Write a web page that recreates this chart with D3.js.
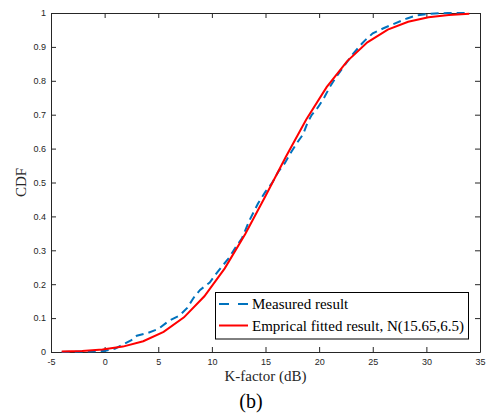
<!DOCTYPE html>
<html>
<head>
<meta charset="utf-8">
<script src="https://cdn.jsdelivr.net/npm/d3@7"></script>
<style>
  html, body { margin: 0; padding: 0; background: #ffffff; }
  svg { display: block; }
</style>
</head>
<body>
<svg id="chart" width="491" height="416"></svg>
<script>
// Empirical CDF of the measured K-factor (dB)
const measuredK = [-4, 0, 1, 1.7, 2.5, 3, 4, 5, 6, 7, 7.7, 8.3, 8.9, 9.8, 10.5, 11.6, 12.3, 12.8,
  13.5, 14.3, 15, 15.6, 16.2, 16.8, 17.4, 17.9, 18.5, 18.9, 19.3, 19.9, 20.5, 21, 21.6, 22.4,
  23.2, 24, 24.3, 25, 26, 26.9, 28.2, 29.1, 30.3, 32, 34];
const measuredCdf = [0, 0.003, 0.01, 0.022, 0.035, 0.048, 0.056, 0.068, 0.092, 0.108, 0.13, 0.16,
  0.183, 0.205, 0.235, 0.278, 0.313, 0.335, 0.388, 0.438, 0.473, 0.498, 0.532, 0.557, 0.59, 0.615,
  0.642, 0.675, 0.699, 0.722, 0.752, 0.782, 0.812, 0.847, 0.881, 0.91, 0.92, 0.94, 0.955, 0.967,
  0.984, 0.993, 0.998, 1.0, 1.0];

// Fitted normal CDF, N(15.65, 6.5)
const fittedK = [-4, -2.1, -0.2, 1.7, 3.6, 5.5, 7.4, 9.3, 11.2, 13.1, 15.0, 16.9, 18.8, 20.7,
  22.6, 24.5, 26.4, 28.3, 30.2, 32.1, 34.0];
const fittedCdf = [0.0013, 0.0032, 0.0074, 0.0159, 0.0319, 0.0592, 0.1022, 0.1643, 0.2468, 0.3474,
  0.4602, 0.5762, 0.6860, 0.7814, 0.8575, 0.9133, 0.9509, 0.9742, 0.9874, 0.9943, 0.9976];

const xTicks = [-5, 0, 5, 10, 15, 20, 25, 30, 35];
const xTickLabels = ["-5", "0", "5", "10", "15", "20", "25", "30", "35"];
const yTicks = [0, 0.1, 0.2, 0.3, 0.4, 0.5, 0.6, 0.7, 0.8, 0.9, 1];
const yTickLabels = ["0", "0.1", "0.2", "0.3", "0.4", "0.5", "0.6", "0.7", "0.8", "0.9", "1"];

const seriesNames = ["Measured result", "Emprical fitted result, N(15.65,6.5)"];

const axisColor = "#262626";
const blue = "#0072BD";
const red = "#FF0000";
const serif = "'Liberation Serif', 'Times New Roman', serif";
const sans = "'Liberation Sans', Arial, Helvetica, sans-serif";

const plotLeft = 51, plotRight = 480, plotTop = 13, plotBottom = 352;

const svg = d3.select("#chart");

const x = d3.scaleLinear().domain([-5, 35]).range([plotLeft, plotRight]);
const y = d3.scaleLinear().domain([0, 1]).range([plotBottom, plotTop]);

const tickLen = 5;

function styleAxis(g) {
  g.selectAll(".domain").attr("stroke", axisColor).attr("stroke-width", 1);
  g.selectAll(".tick line").attr("stroke", axisColor).attr("stroke-width", 1);
  g.selectAll(".tick text").attr("fill", axisColor)
    .style("font-family", sans).style("font-size", "9px");
}

// bottom axis with labels
svg.append("g")
  .attr("transform", `translate(0,${plotBottom})`)
  .call(d3.axisBottom(x).tickValues(xTicks)
    .tickFormat((d, i) => xTickLabels[i])
    .tickSizeInner(-tickLen).tickSizeOuter(0).tickPadding(7))
  .call(styleAxis);

// top axis: ticks only
svg.append("g")
  .attr("transform", `translate(0,${plotTop})`)
  .call(d3.axisTop(x).tickValues(xTicks).tickFormat("")
    .tickSizeInner(-tickLen).tickSizeOuter(0))
  .call(styleAxis);

// left axis with labels
svg.append("g")
  .attr("transform", `translate(${plotLeft},0)`)
  .call(d3.axisLeft(y).tickValues(yTicks)
    .tickFormat((d, i) => yTickLabels[i])
    .tickSizeInner(-tickLen).tickSizeOuter(0).tickPadding(5))
  .call(styleAxis);

// right axis: ticks only
svg.append("g")
  .attr("transform", `translate(${plotRight},0)`)
  .call(d3.axisRight(y).tickValues(yTicks).tickFormat("")
    .tickSizeInner(-tickLen).tickSizeOuter(0))
  .call(styleAxis);

// curves
const line = d3.line().x(d => x(d[0])).y(d => y(d[1]));

const measured = measuredK.map((k, i) => [k, measuredCdf[i]]);
const fitted = fittedK.map((k, i) => [k, fittedCdf[i]]);

svg.append("path")
  .datum(measured)
  .attr("d", line)
  .attr("fill", "none")
  .attr("stroke", blue)
  .attr("stroke-width", 2)
  .attr("stroke-dasharray", "8,5");

svg.append("path")
  .datum(fitted)
  .attr("d", line)
  .attr("fill", "none")
  .attr("stroke", red)
  .attr("stroke-width", 2);

// axis titles
svg.append("text")
  .attr("x", (plotLeft + plotRight) / 2)
  .attr("y", 381)
  .attr("text-anchor", "middle")
  .style("font-family", serif).style("font-size", "15px")
  .attr("fill", axisColor)
  .text("K-factor (dB)");

svg.append("text")
  .attr("transform", `translate(26,${(plotTop + plotBottom) / 2}) rotate(-90)`)
  .attr("text-anchor", "middle")
  .style("font-family", serif).style("font-size", "15px")
  .attr("fill", axisColor)
  .text("CDF");

svg.append("text")
  .attr("x", 251)
  .attr("y", 408)
  .attr("text-anchor", "middle")
  .style("font-family", serif).style("font-size", "20px")
  .attr("fill", "#000")
  .text("(b)");

// legend
const legend = svg.append("g");
legend.append("rect")
  .attr("x", 215.5).attr("y", 292.5)
  .attr("width", 253).attr("height", 46.5)
  .attr("fill", "#fff")
  .attr("stroke", "#000")
  .attr("stroke-width", 1);

const legendRows = [
  { name: seriesNames[0], color: blue, dash: "10,9", cy: 304 },
  { name: seriesNames[1], color: red, dash: null, cy: 325.5 }
];

legendRows.forEach(r => {
  legend.append("line")
    .attr("x1", 219).attr("x2", 248)
    .attr("y1", r.cy).attr("y2", r.cy)
    .attr("stroke", r.color)
    .attr("stroke-width", 2)
    .attr("stroke-dasharray", r.dash);
  legend.append("text")
    .attr("x", 252)
    .attr("y", r.cy + 5)
    .style("font-family", serif).style("font-size", "15px")
    .attr("fill", "#000")
    .text(r.name);
});
</script>
</body>
</html>
